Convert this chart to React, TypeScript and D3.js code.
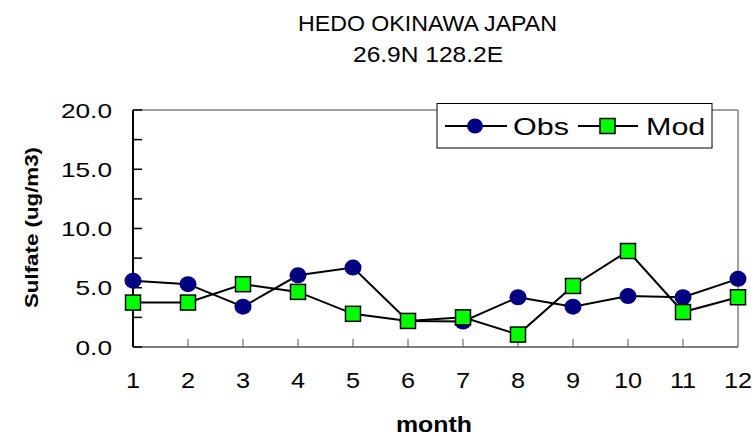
import React from "react";
import * as d3 from "d3";

const months = [1, 2, 3, 4, 5, 6, 7, 8, 9, 10, 11, 12];
const obs = [5.6, 5.3, 3.4, 6.05, 6.7, 2.2, 2.15, 4.2, 3.4, 4.3, 4.2, 5.75];
const mod = [3.75, 3.75, 5.3, 4.65, 2.8, 2.2, 2.5, 1.05, 5.15, 8.1, 2.95, 4.2];
const yTicks = [0, 5, 10, 15, 20];
const yMinor = [0, 2.5, 5, 7.5, 10, 12.5, 15, 17.5, 20];

const W = 756, H = 436;
const L = 133, R = 738, T = 110, B = 347;

function STxt(props: { x: number; y: number; sx: number; size: number; anchor?: string; bold?: boolean; children: any }) {
  const { x, y, sx, size, anchor, bold, children } = props;
  return (
    <text transform={`translate(${x},${y}) scale(${sx},1)`} textAnchor={anchor || "start"} fontSize={size} fontWeight={bold ? "bold" : "normal"}>
      {children}
    </text>
  );
}

export default function App() {
  const x = d3.scaleLinear().domain([1, 12]).range([L, R]);
  const y = d3.scaleLinear().domain([0, 20]).range([B, T]);
  const line = d3.line<number>().x((_, i) => x(months[i])).y((d) => y(d));
  const font = "Liberation Sans, Arial, sans-serif";
  return (
    <svg width={W} height={H} style={{ position: "absolute", left: 0, top: 0, background: "#fff" }} fontFamily={font}>
      <text x={427.5} y={31} textAnchor="middle" fontSize={21.5} textLength={259} lengthAdjust="spacingAndGlyphs">HEDO OKINAWA JAPAN</text>
      <text x={428} y={62} textAnchor="middle" fontSize={21.5} textLength={150} lengthAdjust="spacingAndGlyphs">26.9N 128.2E</text>
      {/* frame */}
      <line x1={L} x2={R} y1={T} y2={T} stroke="#808080" strokeWidth={1.5} />
      <line x1={R} x2={R} y1={T} y2={B} stroke="#808080" strokeWidth={1.5} />
      <line x1={L} x2={R} y1={B} y2={B} stroke="#555" strokeWidth={1.5} />
      <line x1={L} x2={L} y1={T} y2={B} stroke="#000" strokeWidth={2} />
      {yMinor.map((v) => (
        <line key={v} x1={L} x2={L + 9} y1={y(v)} y2={y(v)} stroke="#000" strokeWidth={1.5} />
      ))}
      {months.slice(1, 11).map((m) => (
        <line key={m} x1={x(m)} x2={x(m)} y1={B} y2={B - 8} stroke="#555" strokeWidth={1} />
      ))}
      {yTicks.map((v) => (
        <STxt key={v} x={112} y={y(v) + 7.5} sx={1.25} size={21} anchor="end">{v.toFixed(1)}</STxt>
      ))}
      {months.map((m) => (
        <STxt key={m} x={x(m)} y={388} sx={1.15} size={22} anchor="middle">{m}</STxt>
      ))}
      <text x={434} y={432} textAnchor="middle" fontSize={22} fontWeight="bold" textLength={76} lengthAdjust="spacingAndGlyphs">month</text>
      <text transform={`translate(38,227.5) rotate(-90)`} textAnchor="middle" fontSize={19} fontWeight="bold" textLength={161} lengthAdjust="spacingAndGlyphs">Sulfate (ug/m3)</text>
      {/* series */}
      <path d={line(obs) || ""} fill="none" stroke="#000" strokeWidth={2} />
      <path d={line(mod) || ""} fill="none" stroke="#000" strokeWidth={2} />
      {obs.map((v, i) => (
        <ellipse key={"o" + i} cx={x(months[i])} cy={y(v)} rx={8.5} ry={8} fill="#000080" />
      ))}
      {mod.map((v, i) => (
        <rect key={"m" + i} x={x(months[i]) - 7.5} y={y(v) - 7.5} width={15} height={15} fill="#00ff00" stroke="#000" strokeWidth={1.5} />
      ))}
      {/* legend */}
      <rect x={437} y={103.5} width={275} height={44.5} fill="#fff" stroke="#000" strokeWidth={1} />
      <line x1={445} x2={507} y1={126} y2={126} stroke="#000" strokeWidth={2} />
      <ellipse cx={475} cy={126} rx={8} ry={7.5} fill="#000080" />
      <STxt x={513} y={135} sx={1.27} size={24}>Obs</STxt>
      <line x1={578} x2={638} y1={126} y2={126} stroke="#000" strokeWidth={2} />
      <rect x={600} y={118.5} width={15} height={15} fill="#00ff00" stroke="#000" strokeWidth={1.5} />
      <STxt x={646} y={135} sx={1.27} size={24}>Mod</STxt>
    </svg>
  );
}
